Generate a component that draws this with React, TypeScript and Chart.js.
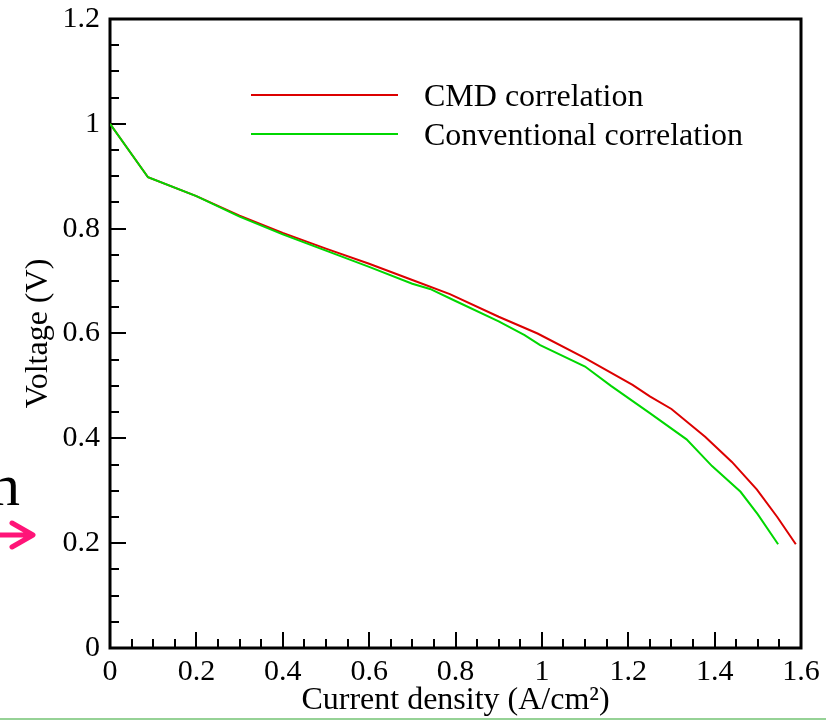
import React, { useEffect, useRef } from "react";
import { Chart, registerables } from "chart.js";

Chart.register(...registerables);

const cmdX = [0, 0.088, 0.2, 0.3, 0.4, 0.5, 0.6, 0.7, 0.787, 0.9, 0.99, 1.1, 1.21, 1.25, 1.3, 1.378, 1.44, 1.498, 1.545, 1.588];
const cmdY = [1.0, 0.898, 0.862, 0.825, 0.792, 0.762, 0.733, 0.702, 0.675, 0.632, 0.600, 0.553, 0.502, 0.48, 0.456, 0.403, 0.355, 0.302, 0.25, 0.198];

const convX = [0, 0.088, 0.2, 0.3, 0.4, 0.5, 0.6, 0.7, 0.741, 0.8, 0.9, 0.96, 0.996, 1.1, 1.16, 1.25, 1.335, 1.394, 1.46, 1.5, 1.547];
const convY = [1.0, 0.898, 0.862, 0.823, 0.789, 0.758, 0.727, 0.695, 0.685, 0.662, 0.623, 0.597, 0.578, 0.537, 0.5, 0.448, 0.398, 0.347, 0.298, 0.255, 0.198];

const seriesNames = ["CMD correlation", "Conventional correlation"];
const seriesColors = ["rgb(220,0,0)", "rgb(0,215,0)"];
const xTitle = "Current density (A/cm²)";
const yTitle = "Voltage (V)";

const FONT = "'Liberation Serif', 'Times New Roman', serif";

const decorPlugin = {
  id: "decor",
  beforeDatasetsDraw(chart: any) {
    const { ctx, chartArea, scales } = chart;
    const { left, right, top, bottom } = chartArea;
    ctx.save();
    ctx.strokeStyle = "#000";
    ctx.lineWidth = 2;
    const xs = scales.x;
    const ys = scales.y;
    for (let i = 0; i <= 32; i++) {
      const v = i * 0.05;
      const px = Math.round(xs.getPixelForValue(v));
      const len = i % 4 === 0 ? 16 : 9;
      ctx.beginPath();
      ctx.moveTo(px, bottom);
      ctx.lineTo(px, bottom - len);
      ctx.stroke();
    }
    for (let i = 0; i <= 24; i++) {
      const v = i * 0.05;
      const py = Math.round(ys.getPixelForValue(v));
      const len = i % 4 === 0 ? 16 : 9;
      ctx.beginPath();
      ctx.moveTo(left, py);
      ctx.lineTo(left + len, py);
      ctx.stroke();
    }
    ctx.lineWidth = 3;
    ctx.beginPath();
    ctx.moveTo(left, top);
    ctx.lineTo(right, top);
    ctx.lineTo(right, bottom);
    ctx.lineTo(left, bottom);
    ctx.closePath();
    ctx.stroke();
    ctx.restore();
  },
  afterDraw(chart: any) {
    const { ctx } = chart;
    ctx.save();
    const legY = [95, 134];
    for (let i = 0; i < 2; i++) {
      ctx.strokeStyle = seriesColors[i];
      ctx.lineWidth = 2;
      ctx.beginPath();
      ctx.moveTo(251, legY[i]);
      ctx.lineTo(398, legY[i]);
      ctx.stroke();
      ctx.fillStyle = "#000";
      ctx.font = `32px ${FONT}`;
      ctx.textBaseline = "alphabetic";
      ctx.textAlign = "left";
      ctx.fillText(seriesNames[i], 424, legY[i] + 11);
    }
    ctx.fillStyle = "#000";
    ctx.font = `60px ${FONT}`;
    ctx.fillText("n", -10, 505);
    ctx.strokeStyle = "rgb(255,20,120)";
    ctx.lineWidth = 5;
    ctx.lineCap = "round";
    ctx.lineJoin = "round";
    ctx.beginPath();
    ctx.moveTo(0, 535);
    ctx.lineTo(32, 535);
    ctx.moveTo(12, 523);
    ctx.lineTo(33, 535);
    ctx.lineTo(12, 547);
    ctx.stroke();
    ctx.strokeStyle = "rgb(150,210,150)";
    ctx.lineWidth = 2;
    ctx.beginPath();
    ctx.moveTo(0, 719);
    ctx.lineTo(826, 719);
    ctx.stroke();
    ctx.restore();
  },
};

const fmt = (v: any) => {
  const n = Number(Number(v).toFixed(2));
  return String(n);
};

export default function App() {
  const ref = useRef<HTMLCanvasElement | null>(null);
  useEffect(() => {
    if (!ref.current) return;
    const chart = new Chart(ref.current, {
      type: "line",
      data: {
        datasets: [
          {
            label: seriesNames[0],
            data: cmdX.map((x, i) => ({ x, y: cmdY[i] })),
            borderColor: seriesColors[0],
            borderWidth: 2,
            pointRadius: 0,
            fill: false,
            tension: 0,
            order: 1,
          },
          {
            label: seriesNames[1],
            data: convX.map((x, i) => ({ x, y: convY[i] })),
            borderColor: seriesColors[1],
            borderWidth: 2,
            pointRadius: 0,
            fill: false,
            tension: 0,
            order: 0,
          },
        ],
      },
      options: {
        animation: false,
        responsive: false,
        devicePixelRatio: 1,
        layout: { padding: { top: 19, right: 25, left: 0, bottom: 0 } },
        plugins: { legend: { display: false }, tooltip: { enabled: false } },
        scales: {
          x: {
            type: "linear",
            min: 0,
            max: 1.6,
            afterFit: (s: any) => { s.height = 72; s.paddingLeft = 0; s.paddingRight = 0; },
            grid: { display: false, drawTicks: false },
            border: { display: false },
            ticks: {
              stepSize: 0.2,
              padding: 6,
              maxRotation: 0,
              autoSkip: false,
              color: "#000",
              font: { family: FONT, size: 30 },
              callback: (v: any) => fmt(v),
            },
            title: {
              display: true,
              text: xTitle,
              color: "#000",
              font: { family: FONT, size: 32 },
              padding: { top: 0, bottom: 0 },
            },
          },
          y: {
            type: "linear",
            min: 0,
            max: 1.2,
            afterFit: (s: any) => { s.width = 110; s.paddingTop = 0; s.paddingBottom = 0; },
            grid: { display: false, drawTicks: false },
            border: { display: false },
            ticks: {
              stepSize: 0.2,
              padding: 10,
              autoSkip: false,
              color: "#000",
              font: { family: FONT, size: 30 },
              callback: (v: any) => fmt(v),
            },
            title: {
              display: true,
              text: yTitle,
              color: "#000",
              font: { family: FONT, size: 32 },
              padding: { top: 19, bottom: 0 },
            },
          },
        },
      },
      plugins: [decorPlugin],
    });
    return () => chart.destroy();
  }, []);
  return (
    <div style={{ position: "fixed", left: 0, top: 0, width: 826, height: 720, background: "#fff" }}>
      <canvas ref={ref} width={826} height={720} style={{ width: 826, height: 720, display: "block" }} />
    </div>
  );
}
